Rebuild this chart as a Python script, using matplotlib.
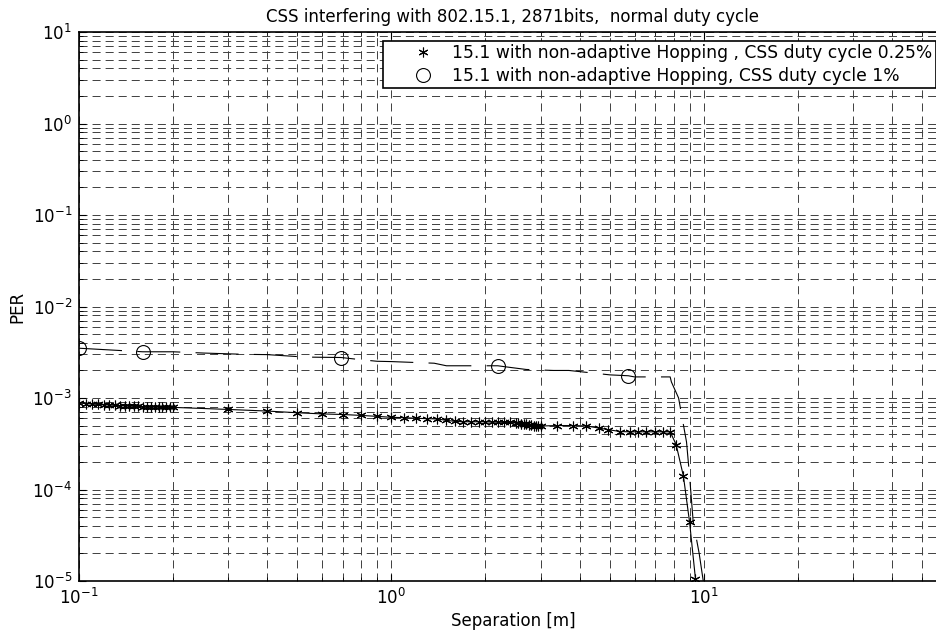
import matplotlib
matplotlib.use('Agg')
import matplotlib.pyplot as plt
from matplotlib.ticker import LogLocator, LogFormatterMathtext, NullFormatter, FixedLocator

plt.rcParams['font.family'] = ['DejaVu Sans']
plt.rcParams['mathtext.fontset'] = 'dejavusans'
plt.rcParams['lines.scale_dashes'] = False

title = "CSS interfering with 802.15.1, 2871bits,  normal duty cycle"
xlabel = "Separation [m]"
ylabel = "PER"
labels = ["15.1 with non-adaptive Hopping , CSS duty cycle 0.25%",
          "15.1 with non-adaptive Hopping, CSS duty cycle 1%"]
xticks_major = [0.1, 1, 10]
yticks_major = [1e-5, 1e-4, 1e-3, 1e-2, 1e-1, 1, 10]

# series 1: CSS duty cycle 0.25% (stars, solid line)
x1 = [0.100, 0.105, 0.110, 0.115, 0.120, 0.125, 0.130, 0.135, 0.140, 0.145,
      0.150, 0.155, 0.160, 0.165, 0.170, 0.175, 0.180, 0.185, 0.190, 0.195, 0.200,
      0.3, 0.4, 0.5, 0.6, 0.7, 0.8, 0.9, 1.0, 1.1, 1.2, 1.3, 1.4, 1.5, 1.6, 1.7,
      1.8, 1.9, 2.0, 2.1, 2.2, 2.3, 2.4,
      2.5, 2.55, 2.6, 2.65, 2.7, 2.75, 2.8, 2.85, 2.9, 2.95, 3.0,
      3.4, 3.8, 4.2, 4.6, 4.95, 5.4, 5.8, 6.15, 6.55, 6.95, 7.4, 7.8,
      8.15, 8.6, 9.0, 9.4]
y1 = [8.8e-4, 8.7e-4, 8.6e-4, 8.5e-4, 8.45e-4, 8.4e-4, 8.3e-4, 8.25e-4, 8.2e-4, 8.15e-4,
      8.1e-4, 8.1e-4, 8.05e-4, 8.0e-4, 8.0e-4, 7.95e-4, 7.95e-4, 7.9e-4, 7.9e-4, 7.9e-4, 7.9e-4,
      7.5e-4, 7.2e-4, 6.9e-4, 6.7e-4, 6.6e-4, 6.45e-4, 6.3e-4, 6.15e-4, 6.1e-4, 6.0e-4,
      5.95e-4, 5.9e-4, 5.7e-4, 5.55e-4, 5.5e-4,
      5.5e-4, 5.5e-4, 5.5e-4, 5.45e-4, 5.45e-4, 5.4e-4, 5.4e-4,
      5.35e-4, 5.3e-4, 5.25e-4, 5.2e-4, 5.15e-4, 5.1e-4, 5.05e-4, 5.0e-4, 4.97e-4, 4.95e-4, 4.94e-4,
      5.0e-4, 5.0e-4, 4.95e-4, 4.7e-4, 4.5e-4, 4.3e-4, 4.27e-4, 4.27e-4, 4.27e-4, 4.27e-4, 4.27e-4, 4.27e-4,
      3.1e-4, 1.4e-4, 4.4e-5, 1.05e-5]

# series 2: CSS duty cycle 1% (dashed line, circle markers)
x2_line = [0.1, 0.16, 0.2, 0.25, 0.34, 0.4, 0.53, 0.69, 0.8, 0.9, 1.0, 1.37, 1.5,
           2.19, 2.3, 2.7, 3.3, 3.7, 5.0, 5.73, 6.0, 7.8, 7.87, 8.3, 8.8, 9.0, 9.24, 9.66, 10.0]
y2_line = [3.5e-3, 3.2e-3, 3.2e-3, 3.1e-3, 3.0e-3, 2.98e-3, 2.8e-3, 2.77e-3, 2.62e-3, 2.52e-3,
           2.5e-3, 2.4e-3, 2.25e-3, 2.25e-3, 2.2e-3, 2.05e-3, 2.0e-3, 2.0e-3, 1.79e-3, 1.75e-3,
           1.7e-3, 1.7e-3, 1.5e-3, 1.0e-3, 3.3e-4, 1.4e-4, 4.5e-5, 2.0e-5, 9e-6]
x2_mark = [0.1, 0.16, 0.69, 2.19, 5.73]
y2_mark = [3.5e-3, 3.2e-3, 2.77e-3, 2.25e-3, 1.75e-3]

fs = 12
lfs = 12.3

fig = plt.figure(figsize=(9.37, 6.33), dpi=100)
ax = fig.add_axes([79 / 937, 52 / 633, 868 / 937, 549 / 633])
ax.set_xscale('log')
ax.set_yscale('log')
ax.set_axisbelow(True)

ax.plot(x1, y1, '-', color='k', lw=0.8)
ax.plot(x2_line, y2_line, color='k', lw=0.8, linestyle=(0, (31, 11)))
h1, = ax.plot(x1, y1, ls='none', marker=(6, 2, 0), ms=7, mec='k', mew=0.8, color='k')
h2, = ax.plot(x2_mark, y2_mark, ls='none', marker='o', ms=10, mfc='none', mec='k', mew=0.8)

ax.set_xlim(0.1, 60)
ax.set_ylim(1e-5, 10)

ax.xaxis.set_major_locator(FixedLocator(xticks_major))
ax.yaxis.set_major_locator(FixedLocator(yticks_major))
for axis in (ax.xaxis, ax.yaxis):
    axis.set_major_formatter(LogFormatterMathtext())
    axis.set_minor_locator(LogLocator(base=10, subs=range(2, 10), numticks=20))
    axis.set_minor_formatter(NullFormatter())

ax.grid(True, which='both', color='0.25', lw=0.7, linestyle=(0, (5.8, 3.6)))
ax.tick_params(which='both', direction='in', top=True, right=True, labelsize=fs, color='k')
ax.tick_params(which='major', length=5, width=0.8, pad=5)
ax.tick_params(which='minor', length=3, width=0.6)
for s in ax.spines.values():
    s.set_linewidth(1.2)

ax.set_title(title, fontsize=fs, pad=7)
ax.set_xlabel(xlabel, fontsize=fs, labelpad=3)
ax.set_ylabel(ylabel, fontsize=fs, labelpad=4)

leg = ax.legend([h1, h2], labels, loc='upper left',
                bbox_to_anchor=(383 / 937, 1 - 41 / 633), bbox_transform=fig.transFigure,
                borderaxespad=0, borderpad=0.2, handlelength=4.3, handletextpad=-0.46,
                labelspacing=0.26, fontsize=lfs, fancybox=False, framealpha=1,
                edgecolor='k')
leg.get_frame().set_linewidth(1.2)

fig.savefig('out.png', dpi=100)
